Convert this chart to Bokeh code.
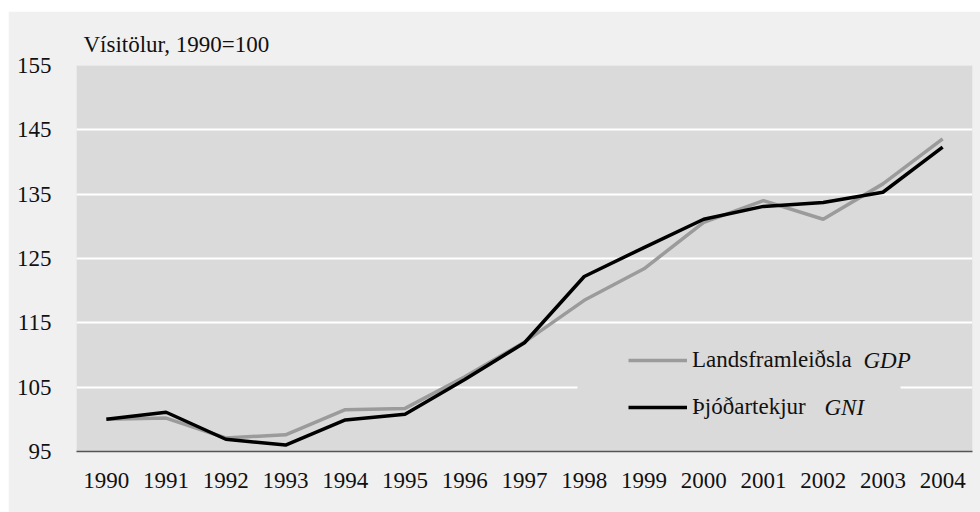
from bokeh.plotting import figure
from bokeh.models import FixedTicker, Legend, LegendItem, Label, BoxAnnotation, Range1d, ColumnDataSource
from bokeh.embed import file_html
from bokeh.resources import INLINE

years = ["1990", "1991", "1992", "1993", "1994", "1995", "1996", "1997",
         "1998", "1999", "2000", "2001", "2002", "2003", "2004"]
gdp = [100.0, 100.2, 97.1, 97.6, 101.5, 101.7, 106.6, 112.0,
       118.5, 123.4, 130.6, 134.0, 131.1, 136.6, 143.6]
gni = [100.0, 101.1, 96.9, 96.0, 99.9, 100.8, 106.2, 111.9,
       122.2, 126.7, 131.1, 133.1, 133.7, 135.3, 142.3]
y_ticks = [95, 105, 115, 125, 135, 145, 155]
y_title = "Vísitölur, 1990=100"
gdp_name, gdp_abbr = "Landsframleiðsla", "GDP"
gni_name, gni_abbr = "Þjóðartekjur", "GNI"

FONT = "'Liberation Serif', 'DejaVu Serif', serif"
FS = "23px"

src = ColumnDataSource(dict(year=years, gdp=gdp, gni=gni))

p = figure(x_range=years, y_range=Range1d(y_ticks[0], y_ticks[-1]),
           width=972, height=501, output_backend="svg", toolbar_location=None,
           min_border_left=68, min_border_right=8, min_border_top=54,
           min_border_bottom=61)
p.margin = (11, 0, 0, 8)
p.background_fill_color = "#dadada"
p.border_fill_color = "#f0f0f0"
p.outline_line_color = None

p.title.text = y_title
p.title.align = "left"
p.title.offset = 7
p.title.standoff = 17
p.title.text_font = FONT
p.title.text_font_size = FS
p.title.text_font_style = "normal"
p.title.text_color = "#111111"

p.xgrid.grid_line_color = None
p.ygrid.grid_line_color = "white"
p.ygrid.grid_line_width = 2
p.yaxis.ticker = FixedTicker(ticks=y_ticks)

for ax in (p.xaxis[0], p.yaxis[0]):
    ax.major_tick_line_color = None
    ax.minor_tick_line_color = None
    ax.major_label_text_font = FONT
    ax.major_label_text_font_size = FS
    ax.major_label_text_color = "#111111"
p.yaxis.axis_line_color = None
p.yaxis.major_label_standoff = 19
p.xaxis.axis_line_color = "#555555"
p.xaxis.axis_line_width = 1.5
p.xaxis.major_label_standoff = 15

r_gdp = p.line("year", "gdp", source=src, line_color="#9b9b9b", line_width=3.5)
r_gni = p.line("year", "gni", source=src, line_color="black", line_width=3.5)

box = BoxAnnotation(left=501, right=824, bottom=12, top=120,
                    left_units="screen", right_units="screen",
                    bottom_units="screen", top_units="screen",
                    fill_color="#dadada", fill_alpha=1, line_alpha=0)
p.add_layout(box)

legend = Legend(items=[LegendItem(label=gdp_name, renderers=[r_gdp]),
                       LegendItem(label=gni_name, renderers=[r_gni])],
                location=(552, 29), background_fill_alpha=0, border_line_alpha=0,
                padding=0, margin=0, glyph_width=59, glyph_height=30,
                label_height=30, spacing=17, label_standoff=5,
                label_text_font=FONT, label_text_font_size=FS,
                label_text_color="#111111")
p.add_layout(legend)

p.add_layout(Label(x=787, y=91, x_units="screen", y_units="screen", text=gdp_abbr,
                   text_font=FONT, text_font_size=FS, text_font_style="italic",
                   text_baseline="middle", text_color="#111111"))
p.add_layout(Label(x=748, y=44, x_units="screen", y_units="screen", text=gni_abbr,
                   text_font=FONT, text_font_size=FS, text_font_style="italic",
                   text_baseline="middle", text_color="#111111"))

open("out.html", "w").write(file_html(p, INLINE))
